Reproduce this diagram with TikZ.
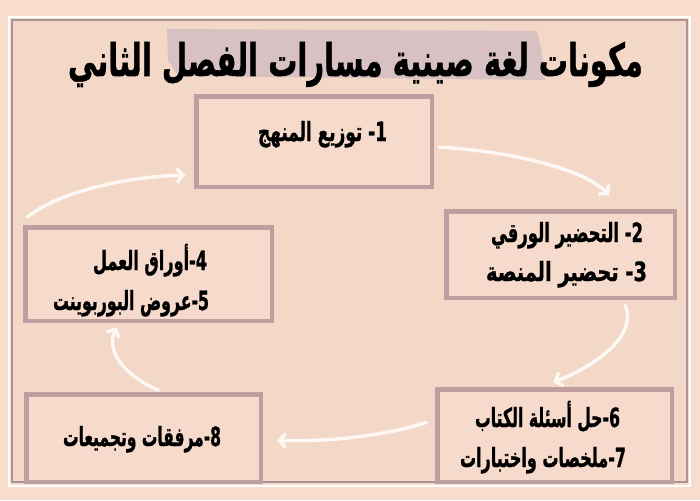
\documentclass[tikz,border=0pt]{standalone}
\usepackage{fontspec}
\usepackage{graphicx}
\usetikzlibrary{arrows.meta,calc}
\TeXXeTstate=1
\newfontfamily\arabicfont[Script=Arabic, FakeBold=1.2]{DejaVu Sans Bold}
\definecolor{outerbg}{HTML}{F8DDCD}
\definecolor{panelbg}{HTML}{F3D7C7}
\definecolor{boxfill}{HTML}{F6DACB}
\definecolor{boxline}{HTML}{BE9EA1}
\definecolor{hilite}{HTML}{D7C1C3}
\definecolor{arrowc}{HTML}{FDF8F3}
\definecolor{panelline}{HTML}{A89494}
\newcommand\arl[2]{\resizebox{#1pt}{1.15\height}{#2}}
\begin{document}
\begin{tikzpicture}[x=1pt,y=-1pt,
  stepbox/.style={draw=boxline, line width=4.5pt, fill=boxfill, inner sep=0pt, anchor=north west},
  lbl/.style={inner sep=0pt, anchor=base, font=\arabicfont\fontsize{23}{26}\selectfont},
  flow/.style={draw=arrowc, line width=3.5pt, line cap=round, -{Straight Barb[length=6pt,width=14pt]}}]
\useasboundingbox (0,0) rectangle (700,500);
% frame
\fill[outerbg] (0,0) rectangle (700,500);
\draw[white, line width=2.5pt] (9,17) rectangle (690,486);
\fill[panelbg] (12,20) rectangle (687,482);
\draw[panelline, line width=1.2pt] (12,20) rectangle (687,482);
% title highlight
\fill[hilite] (167,29) -- (537,31) -- (541,48) -- (545,80) -- (178,76) -- (168,60) -- cycle;
\node[anchor=base, inner sep=0pt] (title) at (355.5,76)
  {\resizebox{575pt}{1.25\height}{\arabicfont\fontsize{36}{40}\selectfont\beginR مكونات لغة صينية مسارات الفصل الثاني\endR}};
% boxes
\node[stepbox, minimum width=235.5pt, minimum height=90.5pt] (b1) at (194.25,94.25) {};
\node[stepbox, minimum width=228.5pt, minimum height=86.5pt] (b2) at (444.25,209.25) {};
\node[stepbox, minimum width=246.5pt, minimum height=93.5pt] (b45) at (23.25,225.25) {};
\node[stepbox, minimum width=234.5pt, minimum height=92.5pt] (b67) at (435.25,387.25) {};
\node[stepbox, minimum width=234.5pt, minimum height=87.5pt] (b8) at (24.25,392.25) {};
% labels
\node[lbl] (t1) at (322.5,141) {\arl{129}{\beginR توزيع المنهج\endR\ 1-}};
\node[lbl] (t2) at (567,242) {\arl{152}{\beginR التحضير الورقي\endR\ 2-}};
\node[lbl] (t3) at (566.5,281) {\arl{161}{\beginR تحضير المنصة\endR\ 3-}};
\node[lbl] (t4) at (150,270) {\arl{114}{\beginR أوراق العمل\endR4-}};
\node[lbl] (t5) at (131,310) {\arl{156}{\beginR عروض البوربوينت\endR5-}};
\node[lbl] (t6) at (547.5,427) {\arl{145}{\beginR حل أسئلة الكتاب\endR6-}};
\node[lbl] (t7) at (543,467) {\arl{166}{\beginR ملخصات واختبارات\endR7-}};
\node[lbl] (t8) at (142,446) {\arl{158}{\beginR مرفقات وتجميعات\endR8-}};
% connectors
\draw[flow] ($(b1.east)+(5,5.5)$) .. controls +(63,3) and +(-27,-28) .. ($(b2.north)+(48.5,-14)$);
\draw[flow] ($(b2.south)+(64.5,5)$) .. controls +(13,32) and +(39,-15) .. ($(b67.north)+(-1.5,-5)$);
\draw[flow] ($(b67.west)+(-9,-13.5)$) .. controls +(-34,12) and +(55,2) .. ($(b8.east)+(14,2)$);
\draw[flow] ($(b8.north)+(14.5,-2)$) .. controls +(-36,-16) and +(-10,23) .. ($(b45.south)+(-32.5,4)$);
\draw[flow] ($(b45.north west)+(4,-8)$) .. controls +(30,-25) and +(-58,1) .. ($(b1.west)+(-9,33.5)$);
\end{tikzpicture}
\end{document}
